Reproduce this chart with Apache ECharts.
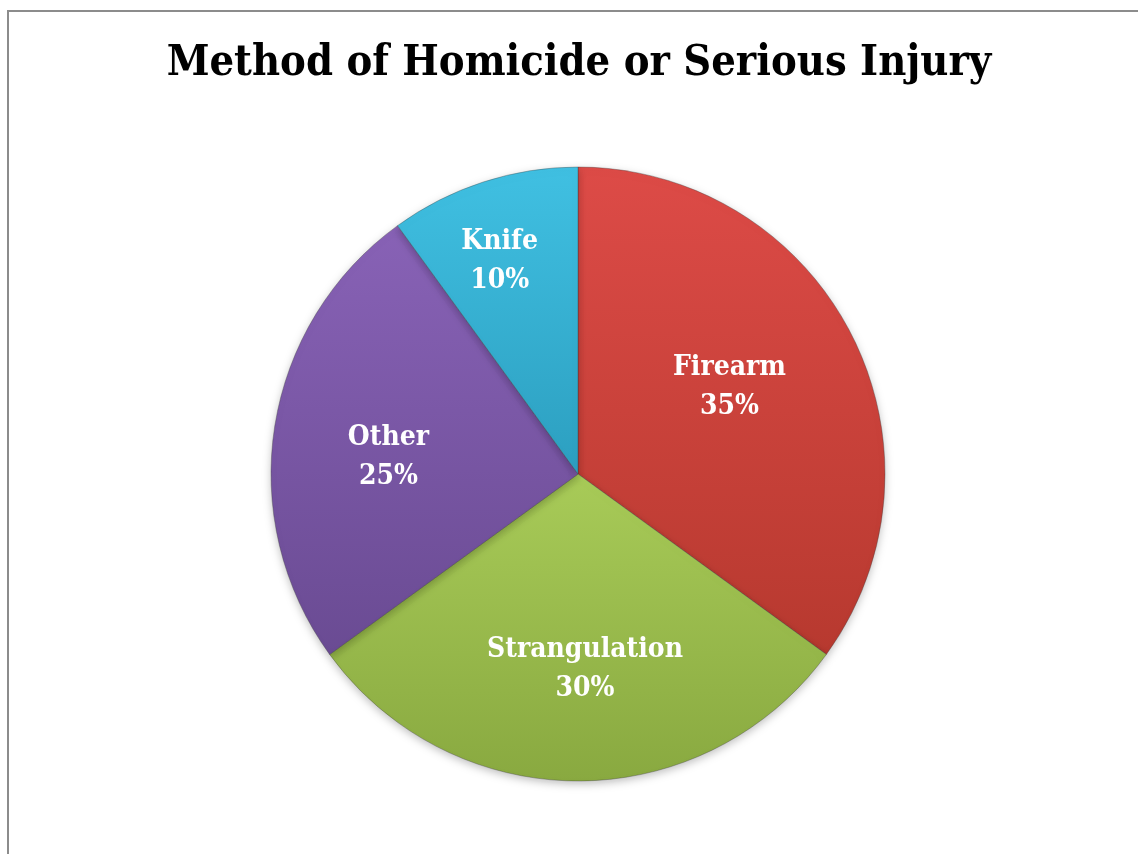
<!DOCTYPE html>
<html>
<head>
<meta charset="utf-8">
<script src="https://cdn.jsdelivr.net/npm/echarts@6/dist/echarts.min.js"></script>
<style>
html,body{margin:0;padding:0;background:#fff;}
#frame{position:absolute;left:7px;top:10px;width:1131px;height:844px;border-left:2px solid #8c8c8c;border-top:2px solid #8c8c8c;box-sizing:border-box;}
#chart{position:absolute;left:0;top:0;width:1138px;height:854px;}
</style>
</head>
<body>
<div id="frame"></div>
<div id="chart"></div>
<script>
const titleText = 'Method of Homicide or Serious Injury';
const categories = ['Firearm', 'Strangulation', 'Other', 'Knife'];
const values = [35, 30, 25, 10];
// styling
const topColors = ['#dd4b47', '#a8cb58', '#8862b6', '#40c0e2'];
const bottomColors = ['#b7392f', '#89a940', '#6a4b93', '#2c9fc0'];
const labelOffsets = [[12, -16], [7, 39], [-35, 8], [-30, -64]];
const fontStack = '"DejaVu Serif Condensed", "DejaVu Serif", serif';

const chart = echarts.init(document.getElementById('chart'), null, {renderer: 'canvas'});
const data = categories.map((name, i) => ({
  name: name,
  value: values[i],
  itemStyle: {
    color: new echarts.graphic.LinearGradient(0, 0, 0, 1, [
      {offset: 0, color: topColors[i]},
      {offset: 1, color: bottomColors[i]}
    ])
  }
}));
chart.setOption({
  animation: false,
  title: {
    text: titleText,
    left: 574,
    textAlign: 'center',
    top: 37,
    textStyle: {fontFamily: fontStack, fontWeight: 'bold', fontSize: 43, color: '#000'}
  },
  series: [{
    type: 'pie',
    center: [578, 474],
    radius: [0, 307],
    startAngle: 90,
    clockwise: true,
    data: data,
    itemStyle: {
      borderColor: 'rgba(60,60,60,0.35)',
      borderWidth: 1,
      shadowBlur: 8,
      shadowOffsetY: 3,
      shadowColor: 'rgba(0,0,0,0.25)'
    },
    label: {
      show: true,
      position: 'inside',
      formatter: p => p.name + '\n' + p.value + '%',
      fontFamily: fontStack,
      fontWeight: 'bold',
      fontSize: 28,
      lineHeight: 39,
      color: '#fff'
    },
    labelLine: {show: false},
    labelLayout: function (params) {
      const o = labelOffsets[params.dataIndex];
      return {dx: o[0], dy: o[1]};
    },
    emphasis: {disabled: true}
  }]
});
</script>
</body>
</html>
